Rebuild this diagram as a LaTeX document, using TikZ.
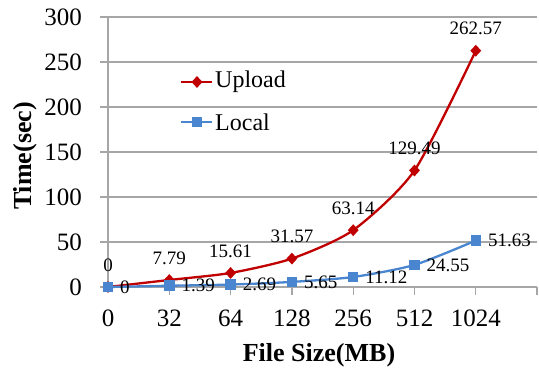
\documentclass[tikz,border=0pt]{standalone}
\usepackage{fontspec}
\setmainfont{Liberation Serif}
\usetikzlibrary{shapes.geometric}
\definecolor{upred}{HTML}{C00000}
\definecolor{locblue}{HTML}{4A86D0}
\definecolor{gridgray}{HTML}{A6A6A6}
\begin{document}
\begin{tikzpicture}[x=1pt,y=1pt,
  ticklbl/.style={font=\fontsize{25}{25}\selectfont, inner sep=0pt},
  datalbl/.style={font=\fontsize{19}{19}\selectfont, inner sep=0pt},
  axtitle/.style={font=\fontsize{26}{26}\selectfont\bfseries, inner sep=0pt},
  legtext/.style={font=\fontsize{24}{24}\selectfont, inner sep=0pt, anchor=west},
  upmark/.style={diamond, fill=upred, inner sep=0pt, minimum width=11pt, minimum height=12pt},
  locmark/.style={rectangle, fill=locblue, inner sep=0pt, minimum size=10.5pt},
  gridline/.style={draw=gridgray, line width=1.3pt},
  upline/.style={draw=upred, line width=2.3pt},
  locline/.style={draw=locblue, line width=2.3pt}]
\useasboundingbox (0,0) rectangle (539,371);
% plot area: categories every 61.3pt, 0.9pt per second
\begin{scope}[shift={(108,84)}, x=61.3pt, y=0.9pt]
  % horizontal grid and value ticks
  \foreach \v in {50,100,...,300}
    \draw[gridline] ([xshift=-8pt]0,\v) -- (7,\v);
  % axes
  \draw[gridline] ([xshift=-8pt]0,0) -- (7,0);
  \draw[gridline] (0,0) -- (0,300);
  \foreach \i in {1,...,7}
    \draw[gridline] (\i,0) -- ([yshift=-8pt]\i,0);
  % value labels
  \foreach \v in {0,50,...,300}
    \node[ticklbl, anchor=east] (yl\v) at ([xshift=-26pt]0,\v) {\v};
  % category labels
  \foreach \i/\c in {0/0,1/32,2/64,3/128,4/256,5/512,6/1024}
    \node[ticklbl] (xl\i) at ([yshift=-31pt]\i,0) {\c};
  % upload series
  \foreach \i/\v in {0/0,1/7.79,2/15.61,3/31.57,4/63.14,5/129.49,6/262.57}
    \coordinate (u\i) at (\i,\v);
  \draw[upline] plot[smooth, tension=0.42] coordinates {(u0) (u1) (u2) (u3) (u4) (u5) (u6)};
  \foreach \i/\l in {0/0,1/7.79,2/15.61,3/31.57,4/63.14,5/129.49,6/262.57} {
    \node[upmark] (um\i) at (u\i) {};
    \node[datalbl] (ul\i) at ([yshift=22pt]u\i) {\l};
  }
  % local series
  \foreach \i/\v in {0/0,1/1.39,2/2.69,3/5.65,4/11.12,5/24.55,6/51.63}
    \coordinate (l\i) at (\i,\v);
  \draw[locline] plot[smooth, tension=0.42] coordinates {(l0) (l1) (l2) (l3) (l4) (l5) (l6)};
  \foreach \i/\l in {0/0,1/1.39,2/2.69,3/5.65,4/11.12,5/24.55,6/51.63} {
    \node[locmark] (lm\i) at (l\i) {};
    \node[datalbl, anchor=west] (ll\i) at ([xshift=12pt]l\i) {\l};
  }
\end{scope}
% axis titles
\node[axtitle] (xtitle) at (319,16) {File Size(MB)};
\node[axtitle, rotate=90] (ytitle) at (25,215) {Time(sec)};
% legend
\coordinate (la) at (181,289);
\coordinate (lb) at (212,289);
\draw[upline] (la) -- (lb);
\node[upmark] (legu) at (197,289) {};
\node[legtext] (legut) at (215,289) {Upload};
\coordinate (lc) at (181,249);
\coordinate (ld) at (212,249);
\draw[locline] (lc) -- (ld);
\node[locmark] (legl) at (197,249) {};
\node[legtext] (leglt) at (215,249) {Local};
\end{tikzpicture}
\end{document}
